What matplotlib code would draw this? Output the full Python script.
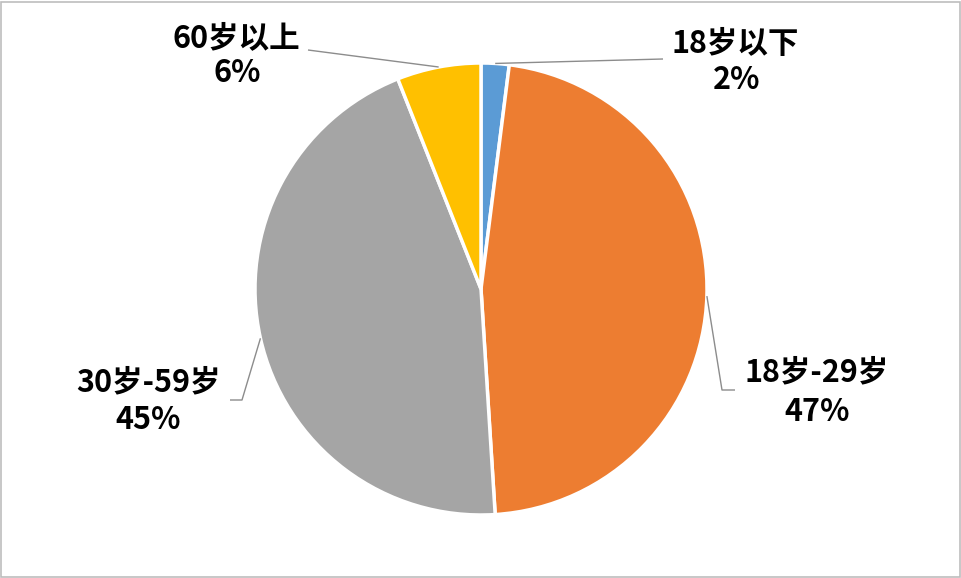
import matplotlib
matplotlib.use("Agg")
import matplotlib.pyplot as plt
import numpy as np
from matplotlib.patches import Rectangle

plt.rcParams['font.family'] = ['Noto Sans CJK SC', 'DejaVu Sans']

categories = ["18岁以下", "18岁-29岁", "30岁-59岁", "60岁以上"]
values = [2, 47, 45, 6]
colors = ["#5B9BD5", "#ED7D31", "#A5A5A5", "#FFC000"]

W, H = 962, 578
fig = plt.figure(figsize=(W / 100, H / 100), dpi=100)
fig.patch.set_facecolor("white")
ax = fig.add_axes([0, 0, 1, 1])
ax.set_xlim(0, W)
ax.set_ylim(0, H)
ax.set_aspect("equal")
ax.axis("off")

cx, cy, r = 481, H - 289, 226
wedges, _ = ax.pie(values, colors=colors, startangle=90, counterclock=False,
                   center=(cx, cy), radius=r, frame=True,
                   wedgeprops=dict(edgecolor="white", linewidth=2.5))
ax.set_xlim(0, W)
ax.set_ylim(0, H)
ax.axis("off")

# label layout (pixel coords from top): text centers and leader path after pie edge
label_pos = [(735, 44), (817, 372), (148, 382), (236, 38)]
pct_pos = [(737, 80), (817, 412), (148, 420), (237, 73)]
leader_tail = [
    [(663, 59)],
    [(722, 390), (735, 390)],
    [(242, 400), (230, 400)],
    [(308, 50)],
]

for w, cat, v, lp, pp, tail in zip(wedges, categories, values, label_pos, pct_pos, leader_tail):
    ang = np.deg2rad((w.theta1 + w.theta2) / 2)
    ex, ey = cx + r * np.cos(ang), cy + r * np.sin(ang)
    xs = [ex] + [p[0] for p in tail]
    ys = [ey] + [H - p[1] for p in tail]
    ax.plot(xs, ys, color="#8c8c8c", lw=1.0, solid_capstyle="butt")
    ax.text(lp[0], H - lp[1], cat, ha="center", va="center", fontsize=22,
            fontweight="black", color="black")
    ax.text(pp[0], H - pp[1], f"{v}%", ha="center", va="center", fontsize=22,
            fontweight="black", color="black")

fig.add_artist(Rectangle((0.001, 0.002), 0.997, 0.995, transform=fig.transFigure,
                         fill=False, edgecolor="#bdbdbd", linewidth=1.2))

fig.savefig("out.png", dpi=100, facecolor="white")
